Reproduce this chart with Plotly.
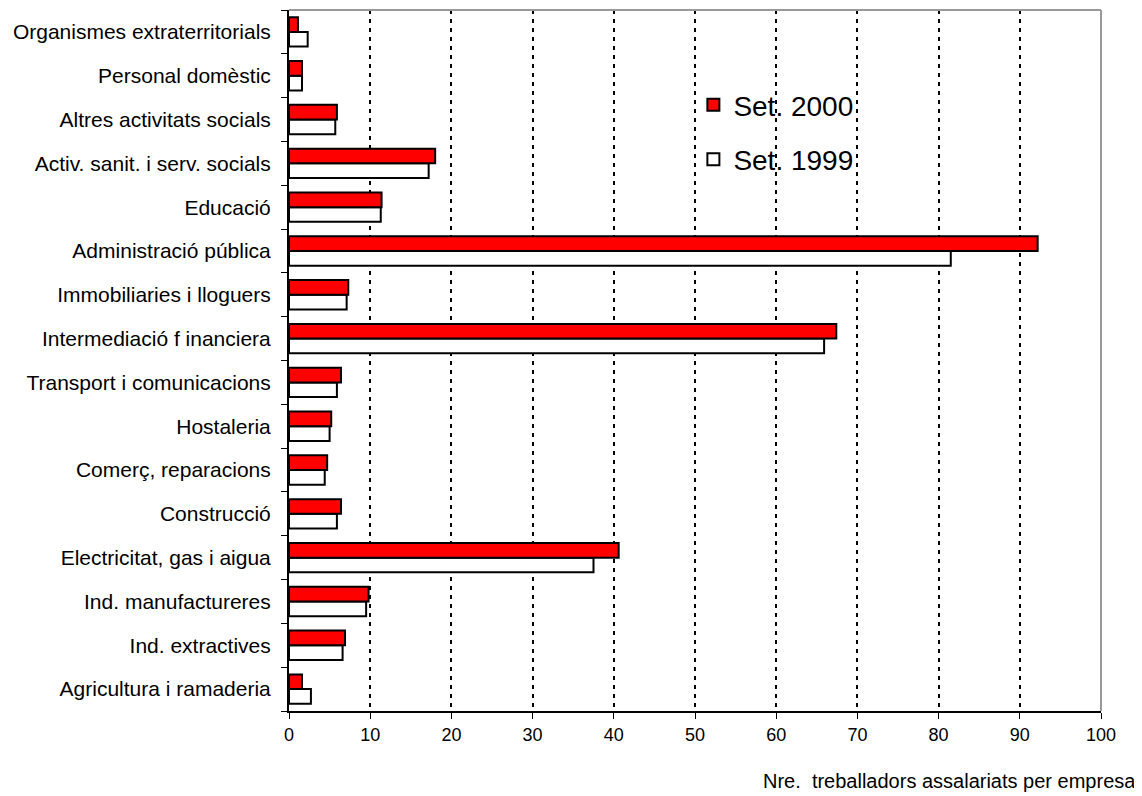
import plotly.graph_objects as go

categories = [
    "Agricultura i ramaderia",
    "Ind. extractives",
    "Ind. manufactureres",
    "Electricitat, gas i aigua",
    "Construcció",
    "Comerç, reparacions",
    "Hostaleria",
    "Transport i comunicacions",
    "Intermediació f inanciera",
    "Immobiliaries i lloguers",
    "Administració pública",
    "Educació",
    "Activ. sanit. i serv. socials",
    "Altres activitats socials",
    "Personal domèstic",
    "Organismes extraterritorials",
]
set_2000 = [1.6, 6.9, 9.8, 40.6, 6.4, 4.7, 5.2, 6.4, 67.4, 7.3, 92.2, 11.4, 18.0, 5.9, 1.6, 1.1]
set_1999 = [2.7, 6.6, 9.5, 37.5, 5.9, 4.4, 5.0, 5.9, 65.9, 7.1, 81.5, 11.3, 17.2, 5.7, 1.6, 2.3]
x_ticks = [0, 10, 20, 30, 40, 50, 60, 70, 80, 90, 100]

FONT = "Liberation Sans, Arial, sans-serif"

fig = go.Figure()
fig.add_trace(go.Bar(
    y=categories, x=set_1999, orientation="h", name="Set. 1999",
    marker=dict(color="white", line=dict(color="black", width=2)),
    legendrank=2, legendgroup="b",
))
fig.add_trace(go.Bar(
    y=categories, x=set_2000, orientation="h", name="Set. 2000",
    marker=dict(color="#FF0000", line=dict(color="black", width=2)),
    legendrank=1, legendgroup="a",
))

fig.update_layout(
    width=1134, height=788,
    margin=dict(l=281, r=41, t=2, b=85),
    paper_bgcolor="white", plot_bgcolor="white",
    barmode="group", bargap=0.33, bargroupgap=0.0,
    font=dict(family=FONT, size=16, color="black"),
    showlegend=True,
    legend=dict(
        x=0.498, y=0.9, xanchor="left", yanchor="top",
        font=dict(family=FONT, size=28, color="black"),
        bgcolor="rgba(0,0,0,0)", tracegroupgap=15,
        itemwidth=30,
    ),
    xaxis=dict(
        range=[0, 100], tickvals=x_ticks, ticktext=[str(v) for v in x_ticks],
        showgrid=True, gridcolor="black", gridwidth=2, griddash="4px,5px",
        zeroline=False, showline=True, linecolor="black", linewidth=2,
        ticks="outside", ticklen=6, tickcolor="black", tickwidth=1,
        tickfont=dict(family=FONT, size=18, color="black"),
        fixedrange=True,
    ),
    yaxis=dict(
        categoryorder="array", categoryarray=categories,
        showline=True, linecolor="black", linewidth=2,
        ticks="outside", ticklen=6, tickcolor="black", tickwidth=1,
        tickson="boundaries", showgrid=False, zeroline=False,
        ticklabelstandoff=12,
        tickfont=dict(family=FONT, size=21, color="black"),
        range=[-0.5, 15.5],
    ),
    shapes=[
        dict(type="line", xref="paper", yref="paper", x0=0, x1=1, y0=1, y1=1,
             line=dict(color="#999999", width=2)),
        dict(type="line", xref="paper", yref="paper", x0=1, x1=1, y0=0, y1=1,
             line=dict(color="#999999", width=2)),
    ],
    annotations=[
        dict(text="Nre.  treballadors assalariats per empresa", xref="paper", yref="paper",
             x=1.045, y=-0.0999, xanchor="right", yanchor="middle", showarrow=False,
             font=dict(family=FONT, size=20, color="black")),
    ],
)

fig.write_html("out.html")
